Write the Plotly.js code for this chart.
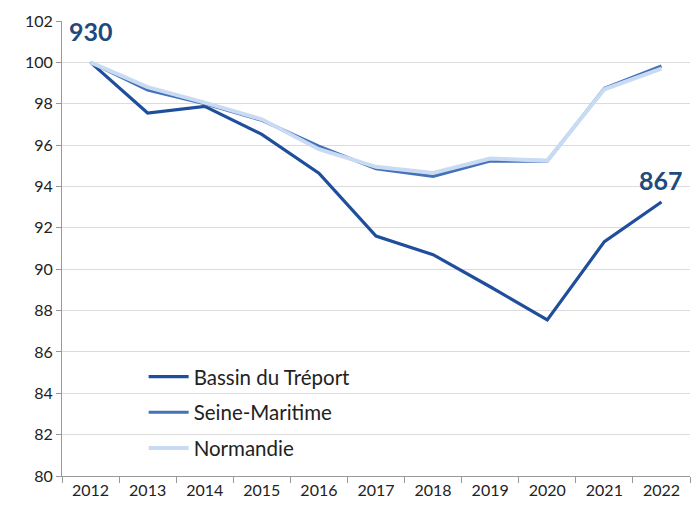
<!DOCTYPE html>
<html>
<head>
<meta charset="utf-8">
<script src="https://cdn.plot.ly/plotly-3.0.1.min.js"></script>
<style>html,body{margin:0;padding:0;background:#fff;}#chart{width:693px;height:508px;}</style>
</head>
<body>
<div id="chart"></div>
<script>
const years = ["2012","2013","2014","2015","2016","2017","2018","2019","2020","2021","2022"];
const bassin = [100, 97.55, 97.87, 96.52, 94.64, 91.6, 90.7, 89.15, 87.55, 91.33, 93.25];
const seine = [100, 98.67, 98.0, 97.2, 95.94, 94.86, 94.49, 95.23, 95.22, 98.75, 99.82];
const normandie = [100, 98.8, 98.05, 97.25, 95.8, 94.95, 94.65, 95.35, 95.25, 98.7, 99.7];
const firstLabel = "930";
const lastLabel = "867";
const fontFam = "Lato, 'Open Sans', sans-serif";

const traces = [
  {x: years, y: bassin, name: "Bassin du Tréport", type: "scatter", mode: "lines", legendgroup: "a",
   line: {color: "#1f4e9c", width: 3.2}},
  {x: years, y: seine, name: "Seine-Maritime", type: "scatter", mode: "lines", legendgroup: "b",
   line: {color: "#4472b8", width: 3.2}},
  {x: years, y: normandie, name: "Normandie", type: "scatter", mode: "lines", legendgroup: "c",
   line: {color: "#c9dbf3", width: 4}}
];

const layout = {
  width: 693, height: 508,
  margin: {l: 62, r: 3, t: 21, b: 32},
  paper_bgcolor: "#fff", plot_bgcolor: "#fff",
  font: {family: fontFam, size: 16, color: "#222"},
  showlegend: true,
  legend: {x: 0.13, y: 0.262, xanchor: "left", yanchor: "top",
    font: {size: 20.5, color: "#222", family: fontFam}, traceorder: "grouped",
    bgcolor: "rgba(0,0,0,0)", itemwidth: 40, tracegroupgap: 6},
  xaxis: {type: "category", range: [-0.5, 10.5], tickson: "boundaries",
    ticks: "outside", ticklen: 6, tickcolor: "#999", showline: true, linecolor: "#999",
    linewidth: 1, showgrid: false, zeroline: false, fixedrange: true,
    tickfont: {size: 16, color: "#222"}},
  yaxis: {range: [80, 102], dtick: 2, tick0: 80, ticks: "outside", ticklen: 5,
    tickcolor: "#999", showline: true, linecolor: "#999", linewidth: 1,
    showgrid: true, gridcolor: "#dcdcdc", gridwidth: 1, zeroline: false, fixedrange: true,
    tickfont: {size: 16, color: "#222"}},
  annotations: [
    {xref: "x", yref: "y", x: 0, y: 101.5, text: "<b>" + firstLabel + "</b>", showarrow: false,
     xanchor: "center", yanchor: "middle", font: {size: 25, color: "#1f4a7e", family: fontFam}},
    {xref: "x", yref: "y", x: years.length - 1, y: 94.3, text: "<b>" + lastLabel + "</b>", showarrow: false,
     xanchor: "center", yanchor: "middle", font: {size: 25, color: "#1f4a7e", family: fontFam}}
  ]
};

Plotly.newPlot("chart", traces, layout, {displayModeBar: false, staticPlot: true});
</script>
</body>
</html>
